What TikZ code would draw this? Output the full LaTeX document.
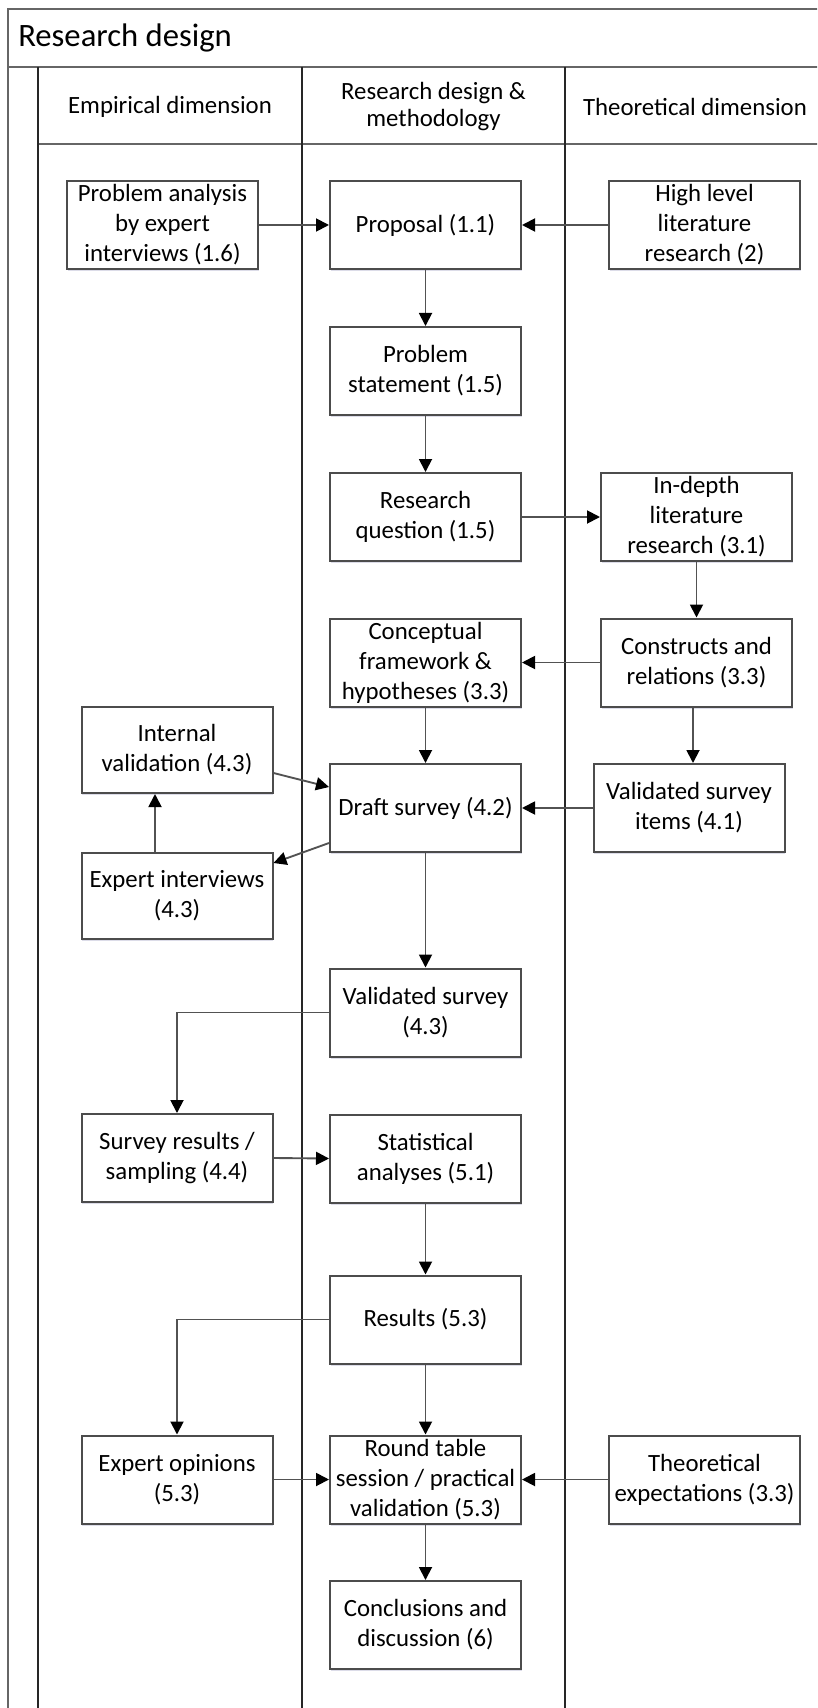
\documentclass[tikz,border=0pt]{standalone}
\usepackage{fontspec}
\setmainfont{Carlito}
\usetikzlibrary{arrows.meta,calc,shadows}

\begin{document}
\begin{tikzpicture}[x=0.75pt,y=-0.75pt,
  frame/.style={draw=black!60, line width=1.9pt},
  lane/.style={draw=black!85, line width=1.1pt},
  box/.style={draw=black!70, line width=1.5pt, fill=white,
    minimum width=143.25pt, minimum height=66pt, align=center, inner sep=2pt,
    font=\fontsize{18.6}{22.5}\selectfont,
    drop shadow={shadow xshift=0.4pt, shadow yshift=-1.8pt, opacity=0.3, fill=blue!35!black!45}},
  arr/.style={draw=black!68, line width=1.4pt,
    -{Triangle[length=9.75pt, width=9.75pt, color=black]}},
  head/.style={align=center, inner sep=0pt, font=\fontsize{18.6}{20.25}\selectfont},
]
\useasboundingbox (0,0) rectangle (817,1708);
\fill[white] (0,0) rectangle (817,1708);

\begin{scope}
\clip (0,0) rectangle (817,1708);
% pool frame, title bar and lane header
\draw[frame] (8,1720) -- (8,9) -- (840,9);
\draw[frame] (8,67) -- (840,67);
\draw[frame] (38,144) -- (840,144);
% lane separators
\draw[lane] (38,67) -- (38,1720);
\draw[lane] (302,67) -- (302,1720);
\draw[lane] (565,67) -- (565,1720);
\end{scope}

\node[anchor=base west, inner sep=0pt, font=\fontsize{24.5}{29}\selectfont] (title) at (18,47) {Research design};

\node[head] (h1) at (170,107) {Empirical dimension};
\node[head] (h2) at (433.5,107) {Research design \&\\methodology};
\node[head] (h3) at (695,107) {Theoretical dimension};

% process steps
\node[box] (pa)  at (162.5,225)  {Problem analysis\\by expert\\interviews (1.6)};
\node[box] (prop) at (425.5,225) {Proposal (1.1)};
\node[box] (hl)  at (704.5,225)  {High level\\literature\\research (2)};
\node[box] (ps)  at (425.5,371)  {Problem\\statement (1.5)};
\node[box] (rq)  at (425.5,517)  {Research\\question (1.5)};
\node[box] (id)  at (696.5,517)  {In-depth\\literature\\research (3.1)};
\node[box] (cf)  at (425.5,662.5) {Conceptual\\framework \&\\hypotheses (3.3)};
\node[box] (cr)  at (696.5,662.5) {Constructs and\\relations (3.3)};
\node[box, minimum height=64.5pt] (il) at (177,750) {Internal\\validation (4.3)};
\node[box] (ds)  at (425.5,808)  {Draft survey (4.2)};
\node[box] (vsi) at (689,808)    {Validated survey\\items (4.1)};
\node[box, minimum height=64.5pt] (ei) at (177,896) {Expert interviews\\(4.3)};
\node[box] (vs)  at (425.5,1012.5) {Validated survey\\(4.3)};
\node[box] (sr)  at (177,1158)   {Survey results /\\sampling (4.4)};
\node[box] (sa)  at (425.5,1158.5) {Statistical\\analyses (5.1)};
\node[box] (res) at (425.5,1319.5) {Results (5.3)};
\node[box] (eo)  at (177,1479.5) {Expert opinions\\(5.3)};
\node[box] (rt)  at (425.5,1479.5) {Round table\\session / practical\\validation (5.3)};
\node[box] (te)  at (704.5,1479.5) {Theoretical\\expectations (3.3)};
\node[box] (cd)  at (425.5,1625) {Conclusions and\\discussion (6)};

\coordinate (xei) at (155,0);
\coordinate (xcr) at (693,0);

% flow
\draw[arr] (pa.east) -- (prop.west);
\draw[arr] (hl.west) -- (prop.east);
\draw[arr] (prop.south) -- (ps.north);
\draw[arr] (ps.south) -- (rq.north);
\draw[arr] (rq.east) -- (id.west);
\draw[arr] (id.south) -- (cr.north);
\draw[arr] (cr.west) -- (cf.east);
\draw[arr] (cf.south) -- (ds.north);
\draw[arr] (cr.south -| xcr) -- (vsi.north -| xcr);
\draw[arr] ($(il.east)+(0,23)$) -- ($(ds.west)+(0,-21)$);
\draw[arr] ($(ds.west)+(0,35)$) -- ($(ei.east)+(0,-33)$);
\draw[arr] (ei.north -| xei) -- (il.south -| xei);
\draw[arr] (vsi.west) -- (ds.east);
\draw[arr] (ds.south) -- (vs.north);
\draw[arr] (vs.west) -| (sr.north);
\draw[arr] (sr.east) -- (sa.west);
\draw[arr] (sa.south) -- (res.north);
\draw[arr] (res.west) -| (eo.north);
\draw[arr] (res.south) -- (rt.north);
\draw[arr] (eo.east) -- (rt.west);
\draw[arr] (te.west) -- (rt.east);
\draw[arr] (rt.south) -- (cd.north);
\end{tikzpicture}
\end{document}
